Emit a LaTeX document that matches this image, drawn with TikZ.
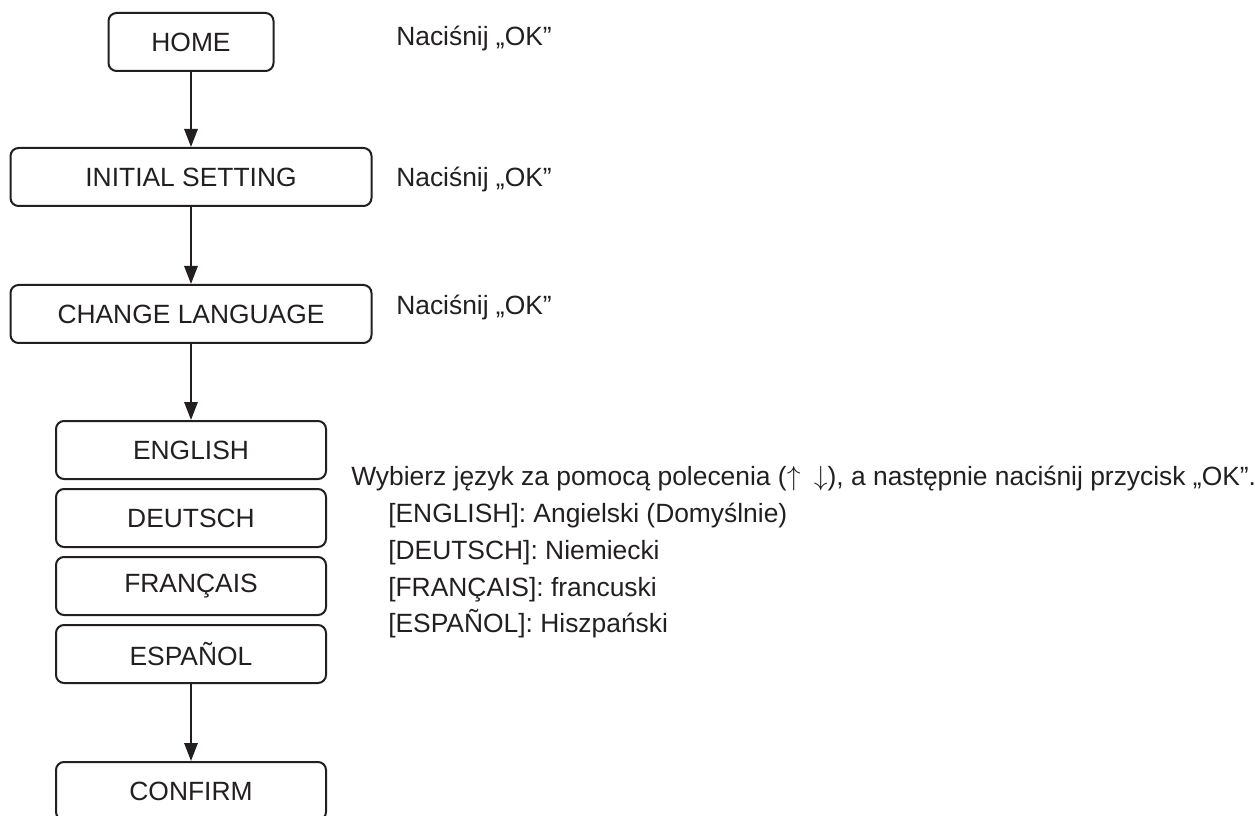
\documentclass[tikz,border=0pt]{standalone}
\usepackage{fontspec}
\setmainfont{Liberation Sans}
\usetikzlibrary{arrows.meta, positioning}

\definecolor{ink}{HTML}{231F20}

\begin{document}
\begin{tikzpicture}[
    x=0.75pt, y=-0.75pt,
    % --- Menu Box Style ---
    menu box/.style={
        draw=ink,
        fill=white,
        line width=1.5pt,
        rounded corners=6pt,
        align=center,
        text=ink,
        inner sep=2pt,
        minimum height=43.5pt,
        font=\fontsize{19.8}{23}\selectfont
    },
    % --- Connecting Arrows ---
    flow arrow/.style={
        -{Triangle[length=13.5pt, width=10pt]},
        line width=1.5pt,
        color=ink
    },
    % --- Side Text ---
    hint text/.style={
        anchor=base west,
        inner sep=0pt,
        text=ink,
        font=\fontsize{19.8}{24}\selectfont
    }
]
    \useasboundingbox (0,0) rectangle (1259,816);

    % =========================================
    % 1. MENU PATH
    % =========================================

    \node[menu box, minimum width=123.75pt] (nodeHome) at (191, 42) {HOME};
    \node[menu box, minimum width=270.75pt] (nodeInit) at (191, 177) {INITIAL SETTING};
    \node[menu box, minimum width=270.75pt] (nodeLang) at (191, 314) {CHANGE LANGUAGE};

    % Language list (stacked boxes)
    \node[menu box, minimum width=202.5pt] (nodeEn) at (191, 450) {ENGLISH};
    \node[menu box, minimum width=202.5pt] (nodeDe) at (191, 518) {DEUTSCH};
    \node[menu box, minimum width=202.5pt] (nodeFr) at (191, 586) {FRANÇAIS};
    \node[menu box, minimum width=202.5pt] (nodeEs) at (191, 654) {ESPAÑOL};

    \node[menu box, minimum width=202.5pt] (nodeConfirm) at (191, 791) {CONFIRM};

    % Steps (Edges)
    \draw[flow arrow] (nodeHome) -- (nodeInit);
    \draw[flow arrow] (nodeInit) -- (nodeLang);
    \draw[flow arrow] (nodeLang) -- (nodeEn);
    \draw[flow arrow] (nodeEs) -- (nodeConfirm);

    % =========================================
    % 2. INSTRUCTIONS
    % =========================================

    \node[hint text] (hintHome) at (396, 46) {Naciśnij „OK”};
    \node[hint text] (hintInit) at (396, 187) {Naciśnij „OK”};
    \node[hint text] (hintLang) at (396, 315) {Naciśnij „OK”};

    \node[hint text] (hintPick) at (351, 485)
        {Wybierz język za pomocą polecenia ($\uparrow$\enspace$\downarrow$), a następnie naciśnij przycisk „OK”.};
    \node[hint text] (hintEn) at (388, 522) {[ENGLISH]: Angielski (Domyślnie)};
    \node[hint text] (hintDe) at (388, 559) {[DEUTSCH]: Niemiecki};
    \node[hint text] (hintFr) at (388, 596) {[FRANÇAIS]: francuski};
    \node[hint text] (hintEs) at (388, 632) {[ESPAÑOL]: Hiszpański};

\end{tikzpicture}
\end{document}
